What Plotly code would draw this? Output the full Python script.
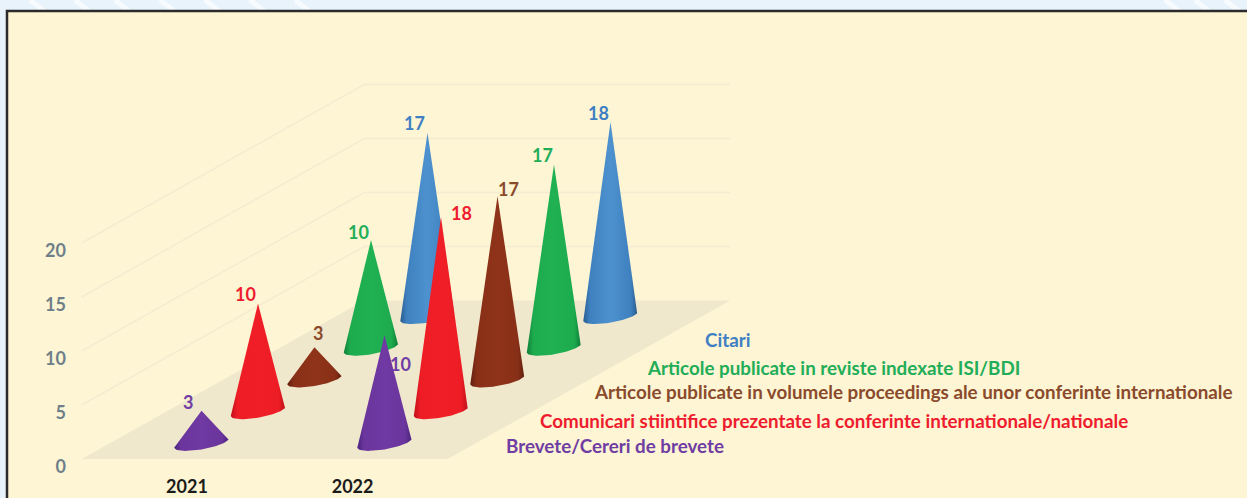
import numpy as np
import plotly.graph_objects as go

# ---- data ----
categories = ["2021", "2022"]
series = [
    "Brevete/Cereri de brevete",
    "Comunicari stiintifice prezentate la conferinte internationale/nationale",
    "Articole publicate in volumele proceedings ale unor conferinte internationale",
    "Articole publicate in reviste indexate ISI/BDI",
    "Citari",
]
values_2021 = [3, 10, 3, 10, 17]
values_2022 = [10, 18, 17, 17, 18]
value_ticks = [0, 5, 10, 15, 20]

# ---- styles ----
label_colors = ["#6f3da3", "#ee1c2e", "#8a4a2c", "#22ad58", "#3f7fc4"]
cone_scales = [
    ["#4c2380", "#6a359c", "#7039a3", "#6a359c", "#4c2380"],
    ["#c0121a", "#ee1c25", "#f01f27", "#ee1c25", "#c0121a"],
    ["#62200e", "#882f17", "#8f341a", "#882f17", "#62200e"],
    ["#0f7f38", "#1dab4e", "#20b153", "#1dab4e", "#0f7f38"],
    ["#2a5d91", "#3f80bf", "#4d92cf", "#3f80bf", "#2a5d91"],
]
label_offsets_2021 = [(-14, 9), (-13, 9), (3, 14), (-13, 8), (-13, 10)]
label_offsets_2022 = [(16, -29), (20, 4), (11, 7), (-12, 9), (-12, 9)]
legend_left_px = [504, 538, 592, 645, 703]
legend_mid_py = [445, 420, 391, 367, 339]
streak_px = [30, 75, 115, 160, 205, 250, 295, 1165, 1195, 1225]

PANEL = "#fdf5d3"
FLOOR = "#f0e8cc"
GRID = "#f4ecd1"
OUTER = "#e9f3fc"
FONT = "Lato"

# ---- page geometry ----
W, H = 1247, 498
LEFT, BOTTOM_PY = 72, 470
CAT_PX, VAL_PX = 183.0, 10.8
DEPTH_DX, DEPTH_DY = 56.5, 31.7
ORIGIN_PX, ORIGIN_PY = 173.25, 459.0
SK_X, SK_Y = DEPTH_DX / CAT_PX, DEPTH_DY / VAL_PX


def project(cat, ser, val):
    """Oblique projection: category / series depth / value -> axis coordinates."""
    d = ser + 0.5
    return cat + d * SK_X, val + d * SK_Y


def cone(cat, ser, val):
    cx, cy = project(cat, ser, 0)
    a, b, tilt = 27.5, 6.5, np.radians(9)
    t = np.linspace(0, np.pi, 40)
    ex = a * np.cos(t) * np.cos(tilt) - b * np.sin(t) * np.sin(tilt)
    ey = a * np.cos(t) * np.sin(tilt) - b * np.sin(t) * np.cos(tilt)
    xs = [cx] + list(cx + ex / CAT_PX) + [cx]
    ys = [cy + val] + list(cy + ey / VAL_PX) + [cy + val]
    return xs, ys


fig = go.Figure()

# floor
corners = [(-0.5, -0.5), (1.5, -0.5), (1.5, 4.5), (-0.5, 4.5), (-0.5, -0.5)]
fx, fy = zip(*[project(c, s, 0) for c, s in corners])
fig.add_trace(go.Scatter(x=fx, y=fy, mode="lines", fill="toself", fillcolor=FLOOR,
                         line=dict(width=0), hoverinfo="skip", name="floor"))

# side and back walls
for v in value_ticks[1:]:
    gx, gy = zip(*[project(c, s, v) for c, s in [(-0.5, -0.5), (-0.5, 4.5), (1.5, 4.5)]])
    fig.add_trace(go.Scatter(x=gx, y=gy, mode="lines", line=dict(color=GRID, width=1.5),
                             hoverinfo="skip", name=f"grid {v}"))

# cones, back to front
all_values = [values_2021, values_2022]
stops = [0, 0.12, 0.5, 0.88, 1]
for s in reversed(range(len(series))):
    for c, vals in enumerate(all_values):
        xs, ys = cone(c, s, vals[s])
        fig.add_trace(go.Scatter(
            x=xs, y=ys, mode="lines", fill="toself", line=dict(width=0),
            fillgradient=dict(type="horizontal",
                              colorscale=[[p, col] for p, col in zip(stops, cone_scales[s])]),
            name=f"{series[s]} {categories[c]}", hovertemplate="%{fullData.name}<extra></extra>",
        ))

annotations = []
all_offsets = [label_offsets_2021, label_offsets_2022]
for c, vals in enumerate(all_values):
    for s, v in enumerate(vals):
        x, y = project(c, s, v)
        annotations.append(dict(x=x, y=y, text=str(v), showarrow=False,
                                xshift=all_offsets[c][s][0], yshift=all_offsets[c][s][1],
                                font=dict(family=FONT, size=18, color=label_colors[s], weight=700)))

x_lo = (LEFT - ORIGIN_PX) / CAT_PX
x_hi = (W - ORIGIN_PX) / CAT_PX
y_lo = (ORIGIN_PY - BOTTOM_PY) / VAL_PX
y_hi = ORIGIN_PY / VAL_PX

for name, px, py, col in zip(series, legend_left_px, legend_mid_py, label_colors):
    annotations.append(dict(x=(px - ORIGIN_PX) / CAT_PX, y=(ORIGIN_PY - py) / VAL_PX,
                            text=name, showarrow=False, xanchor="left", yanchor="middle",
                            font=dict(family=FONT, size=18.8, color=col, weight=700)))


def pxx(px):
    return (px - LEFT) / (W - LEFT)


def pxy(py):
    return (BOTTOM_PY - py) / BOTTOM_PY


shapes = [
    dict(type="line", xref="paper", yref="paper", layer="below",
         x0=pxx(px), x1=pxx(px + 14), y0=pxy(0), y1=pxy(11),
         line=dict(color="#f8fbfe", width=5))
    for px in streak_px
]
shapes.append(dict(type="rect", xref="paper", yref="paper", layer="below",
                   x0=pxx(7), x1=pxx(W + 20), y0=pxy(H + 20), y1=pxy(11),
                   fillcolor=PANEL, line=dict(color="#2b2b2b", width=2.5)))

fig.update_layout(
    width=W, height=H, autosize=False,
    margin=dict(l=LEFT, r=0, t=0, b=H - BOTTOM_PY, pad=0),
    paper_bgcolor=OUTER, plot_bgcolor="rgba(0,0,0,0)",
    showlegend=False, shapes=shapes, annotations=annotations,
    xaxis=dict(range=[x_lo, x_hi], showgrid=False, zeroline=False, showline=False, ticks="",
               tickmode="array", tickvals=[0.075, 0.98], ticktext=categories,
               ticklabelstandoff=4,
               tickfont=dict(family=FONT, size=18, color="#1b1b1b", weight=700)),
    yaxis=dict(range=[y_lo, y_hi], showgrid=False, zeroline=False, showline=False, ticks="",
               tickmode="array", tickvals=value_ticks, ticklabelshift=8, ticklabelstandoff=5,
               tickfont=dict(family=FONT, size=18, color="#6f7f8a", weight=700)),
)
fig.write_html("out.html", config={"displayModeBar": False},
               post_script="document.body.style.margin='0';document.documentElement.style.overflow='hidden';")
